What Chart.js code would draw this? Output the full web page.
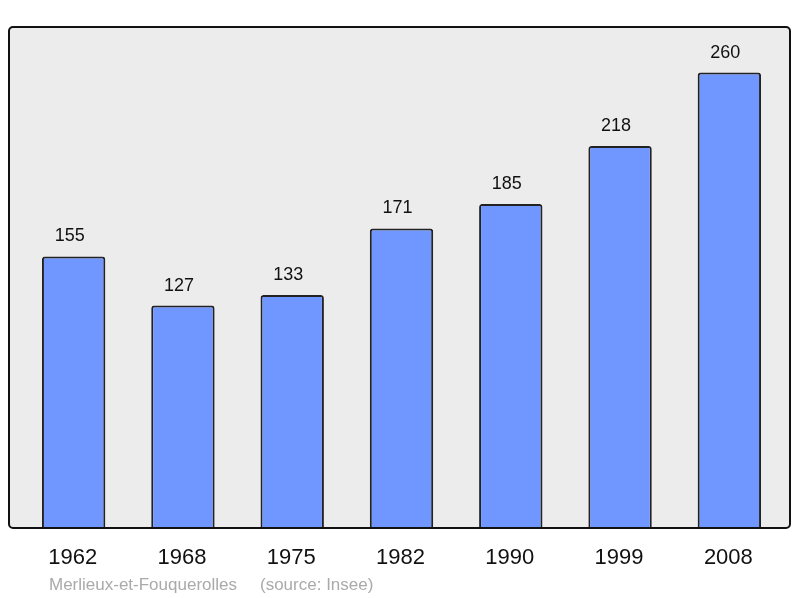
<!DOCTYPE html>
<html lang="fr">
<head>
  <meta charset="UTF-8">
  <title>Merlieux-et-Fouquerolles</title>
  <script src="https://cdn.jsdelivr.net/npm/chart.js"></script>
  <style>
    html, body { margin: 0; padding: 0; background: #fff; }
    #wrap { width: 800px; height: 598px; position: relative; }
  </style>
</head>
<body>
<div id="wrap"><canvas id="popChart" width="800" height="598"></canvas></div>
<script>
  // données
  const years = ['1962', '1968', '1975', '1982', '1990', '1999', '2008'];
  const population = [155, 127, 133, 171, 185, 218, 260];
  const yMax = 286;
  const place = 'Merlieux-et-Fouquerolles';
  const source = '(source: Insee)';

  // fond gris + cadre, étiquettes des valeurs et des années
  const framePlugin = {
    id: 'frame',
    beforeDraw: (chart) => {
      const { ctx, chartArea: a } = chart;
      const x0 = a.left - 10, x1 = a.right + 6, y0 = a.top, y1 = a.bottom;
      ctx.save();
      ctx.beginPath();
      ctx.roundRect(x0, y0, x1 - x0, y1 - y0, 4);
      ctx.fillStyle = '#ececec';
      ctx.fill();
      ctx.restore();
    },
    afterDraw: (chart) => {
      const { ctx, chartArea: a } = chart;
      const x0 = a.left - 10, x1 = a.right + 6, y0 = a.top, y1 = a.bottom;
      ctx.save();
      ctx.beginPath();
      ctx.roundRect(x0, y0, x1 - x0, y1 - y0, 4);
      ctx.lineWidth = 2;
      ctx.strokeStyle = '#111';
      ctx.stroke();

      const meta = chart.getDatasetMeta(0);
      ctx.textAlign = 'center';
      ctx.fillStyle = '#111';
      ctx.font = '18px "Liberation Sans", Arial, sans-serif';
      ctx.textBaseline = 'alphabetic';
      meta.data.forEach((bar, i) => {
        ctx.fillText(String(population[i]), bar.x - 4, bar.y - 15);
      });
      ctx.font = '22px "Liberation Sans", Arial, sans-serif';
      meta.data.forEach((bar, i) => {
        ctx.fillText(years[i], bar.x - 1, a.bottom + 36);
      });
      ctx.textAlign = 'left';
      ctx.fillStyle = '#aaaaaa';
      ctx.font = '17px "Liberation Sans", Arial, sans-serif';
      ctx.fillText(place, 49, a.bottom + 62);
      ctx.fillText(source, 260, a.bottom + 62);
      ctx.restore();
    }
  };

  new Chart(document.getElementById('popChart').getContext('2d'), {
    type: 'bar',
    data: {
      labels: years,
      datasets: [{
        data: population,
        backgroundColor: '#7097ff',
        borderColor: '#222',
        borderWidth: 2,
        borderRadius: { topLeft: 3, topRight: 3 },
        borderSkipped: 'bottom',
        barPercentage: 0.58,
        categoryPercentage: 1
      }]
    },
    options: {
      responsive: false,
      animation: false,
      layout: { padding: { left: 19, right: 16, top: 27, bottom: 70 } },
      scales: {
        x: { display: false },
        y: { display: false, min: 0, max: yMax }
      },
      plugins: {
        legend: { display: false },
        tooltip: { enabled: false }
      }
    },
    plugins: [framePlugin]
  });
</script>
</body>
</html>
